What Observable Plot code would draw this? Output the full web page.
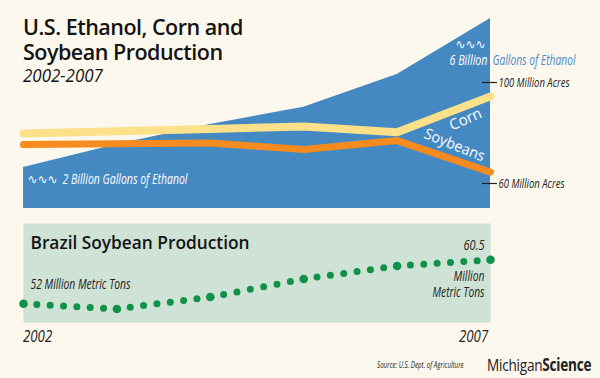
<!DOCTYPE html>
<html><head><meta charset="utf-8">
<script src="https://cdn.jsdelivr.net/npm/d3@7"></script>
<script src="https://cdn.jsdelivr.net/npm/@observablehq/plot@0.6"></script>
<style>
html,body{margin:0;padding:0;background:#fdf8ed;}
#wrap{position:relative;width:600px;height:378px;overflow:hidden;background:#fdf8ed;font-family:"Open Sans",sans-serif;}
#wrap svg{position:absolute;left:0;top:0;}
.t{position:absolute;white-space:nowrap;color:#141414;transform-origin:0 0;}
</style></head>
<body><div id="wrap">
<div class="t" style="left:23px;top:15px;font-size:21.5px;font-weight:600;line-height:24.5px;letter-spacing:-0.5px">U.S. Ethanol, Corn and<br>Soybean Production</div>
<div class="t" style="left:23px;top:64px;font-size:18px;font-style:italic;line-height:22px;transform:scaleX(0.94)">2002-2007</div>
<div class="t" style="left:23px;top:325px;font-size:17px;font-style:italic;line-height:22px;color:#222;transform:scaleX(0.78)">2002</div>
<div class="t" style="left:459px;top:325px;font-size:17px;font-style:italic;line-height:22px;color:#222;transform:scaleX(0.78)">2007</div>
<div class="t" style="left:377px;top:360px;font-size:8.5px;line-height:10px;color:#222;font-style:italic;transform:scaleX(0.73)">Source: U.S. Dept. of Agriculture</div>
<div class="t" style="left:487px;top:355px;font-size:17px;line-height:20px;color:#222;letter-spacing:-0.3px;transform:scaleX(0.80)">Michigan<b>Science</b></div>
</div>
<script>
const years = [2002, 2003, 2004, 2005, 2006, 2007];
const ethanol = [2.14, 2.81, 3.40, 3.90, 4.86, 6.50];      // billion gallons
const corn = [79.8, 80.7, 81.6, 82.6, 80.3, 94.5];          // million acres
const soybeans = [75.4, 75.7, 76.0, 73.5, 77.0, 64.5];      // million acres
const brazil = [52.0, 51.0, 53.3, 56.8, 59.3, 60.5];        // million metric tons
const acreTicks = [100, 60];
const acreLabels = ["100 Million Acres", "60 Million Acres"];

const usData = years.map((year, i) => ({year, ethanol: ethanol[i], corn: corn[i], soybeans: soybeans[i]}));
const brData = years.map((year, i) => ({year, value: brazil[i]}));
// consecutive year pairs, so every dotted segment starts and ends on a year dot
const brSegments = brData.slice(1).flatMap((d, i) => [{...brData[i], seg: i}, {...d, seg: i}]);

const BLUE = "#4589c3", CORN = "#fde08a", SOY = "#f68b1f", GREEN = "#0f9147", PANEL = "#cee2d5";
const NARROW = "Open Sans, sans-serif";
const wrap = document.getElementById("wrap");
const base = {width: 600, height: 378, margin: 0, style: {background: "transparent", overflow: "visible"}};
const xScale = {domain: [2002, 2007], range: [23, 490], axis: null};

// fit condensed labels to the widths seen in the reference
function condense(svg, widths) {
  svg.querySelectorAll("text, tspan").forEach(el => {
    if (el.children.length) return;
    const w = widths[el.textContent];
    if (w) { el.setAttribute("textLength", w); el.setAttribute("lengthAdjust", "spacingAndGlyphs"); }
  });
  return svg;
}

// Brazil panel
const brazilPlot = Plot.plot({
  ...base,
  marginLeft: 23, marginRight: 110, marginTop: 223, marginBottom: 56,
  x: xScale,
  y: {domain: [52, 60.5], range: [303.3, 259.3], axis: null},
  marks: [
    Plot.frame({fill: PANEL, stroke: "none"}),
    Plot.line(brSegments, {x: "year", y: "value", z: "seg", stroke: GREEN, strokeWidth: 7, strokeDasharray: "0 13.8", strokeLinecap: "round", className: "dotted"}),
    Plot.dot(brData, {x: "year", y: "value", fill: GREEN, r: 4.3}),
    Plot.text(["Brazil Soybean Production"], {frameAnchor: "top-left", dx: 7, dy: 13, fontSize: 18, fontWeight: 600, fill: "#141414", textAnchor: "start", fontFamily: "Open Sans", lineAnchor: "top"}),
    Plot.text([brData[0]], {x: "year", y: "value", text: d => `${d.value} Million Metric Tons`, dx: 7, dy: -19, textAnchor: "start", fontSize: 14, fontStyle: "italic", fontFamily: NARROW, fill: "#222"}),
    Plot.text([brData[5]], {x: "year", y: "value", text: d => `${d.value}`, dx: -6, dy: -14, textAnchor: "end", fontSize: 14, fontStyle: "italic", fontFamily: NARROW, fill: "#222"}),
    Plot.text([brData[5]], {x: "year", y: "value", text: () => "Million\nMetric Tons", dx: -6, dy: 24, lineHeight: 1.15, textAnchor: "end", fontSize: 14, fontStyle: "italic", fontFamily: NARROW, fill: "#222"})
  ]
});
wrap.appendChild(condense(brazilPlot, {
  "Brazil Soybean Production": 219, "52 Million Metric Tons": 100, "60.5": 21, "Million": 31, "Metric Tons": 52
}));
// spread the dots evenly within each yearly segment
brazilPlot.querySelectorAll(".dotted path").forEach(p => {
  const L = p.getTotalLength();
  const n = Math.max(1, Math.round(L / 13.8));
  p.setAttribute("stroke-dasharray", `0 ${L / n}`);
});

// Ethanol area
const ethanolPlot = Plot.plot({
  ...base,
  x: xScale,
  y: {domain: [0.94, 6.5], range: [208, 18], axis: null},
  marks: [
    Plot.areaY(usData, {x: "year", y1: 0.94, y2: "ethanol", fill: BLUE}),
    Plot.text([usData[0]], {x: "year", y: "ethanol", text: () => "∿∿∿", dx: 4, dy: 12, textAnchor: "start", fill: "white", fontSize: 13, fontFamily: "DejaVu Sans"}),
    Plot.text([usData[0]], {x: "year", y: "ethanol", text: d => `${Math.round(d.ethanol)} Billion Gallons of Ethanol`, dx: 39, dy: 12, textAnchor: "start", fill: "white", fontSize: 14, fontStyle: "italic", fontFamily: NARROW}),
    Plot.text([usData[5]], {x: "year", y: "ethanol", text: () => "∿∿∿", dx: -35, dy: 26, textAnchor: "start", fill: "white", fontSize: 13, fontFamily: "DejaVu Sans"}),
    Plot.text([usData[5]], {x: "year", y: "ethanol", text: d => `${Math.floor(d.ethanol)} Billion`, dx: -3, dy: 42, textAnchor: "end", fill: "white", fontSize: 14, fontStyle: "italic", fontFamily: NARROW}),
    Plot.text([usData[5]], {x: "year", y: "ethanol", text: () => "Gallons of Ethanol", dx: 2, dy: 42, textAnchor: "start", fill: "#4a8ac6", fontSize: 14, fontStyle: "italic", fontFamily: NARROW})
  ]
});
wrap.appendChild(condense(ethanolPlot, {
  "∿∿∿": 30, "2 Billion Gallons of Ethanol": 125, "6 Billion": 38, "Gallons of Ethanol": 83
}));

// Corn & soybean acreage
const acrePlot = Plot.plot({
  ...base,
  x: xScale,
  y: {domain: [60, 100], range: [183, 82], axis: null},
  marks: [
    Plot.line(usData, {x: "year", y: "corn", stroke: CORN, strokeWidth: 8, strokeLinecap: "round"}),
    Plot.line(usData, {x: "year", y: "soybeans", stroke: SOY, strokeWidth: 7, strokeLinecap: "round"}),
    Plot.ruleY(acreTicks, {x1: 2007, x2: 2007, insetLeft: -8, insetRight: -7, stroke: "#222", strokeWidth: 1.2}),
    Plot.text(acreTicks, {x: 2007, y: d => d, text: (d, i) => acreLabels[i], dx: 8, textAnchor: "start", fill: "#222", fontSize: 13.5, fontStyle: "italic", fontFamily: NARROW}),
    Plot.text([usData[5]], {x: "year", y: "corn", text: () => "Corn", dx: -25, dy: 23, rotate: -24, fill: "white", fontSize: 15, fontFamily: "Open Sans"}),
    Plot.text([usData[5]], {x: "year", y: "soybeans", text: () => "Soybeans", dx: -36, dy: -27, rotate: 22, fill: "white", fontSize: 15, fontFamily: "Open Sans"})
  ]
});
wrap.appendChild(condense(acrePlot, {
  "100 Million Acres": 71, "60 Million Acres": 66, "Soybeans": 64
}));
</script>
</body></html>
